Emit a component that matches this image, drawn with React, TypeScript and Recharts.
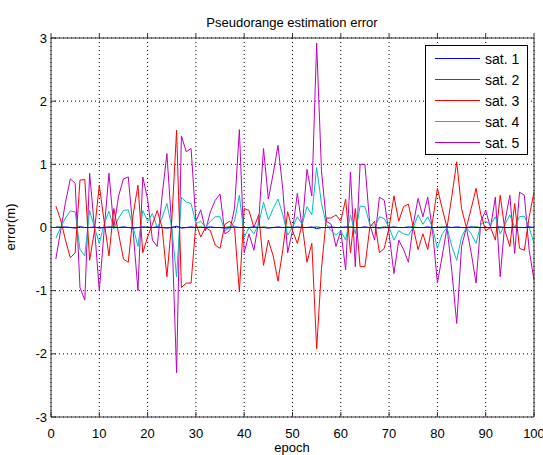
import React from 'react';
import { LineChart, Line, XAxis, YAxis, CartesianGrid, Legend } from 'recharts';

// error (m) per epoch 1..100
const sat1 = [
  0.01, 0.0, 0.01, 0.0, -0.01, 0.01, 0.0, 0.0, 0.01, -0.01,
  0.0, 0.01, 0.0, 0.0, 0.01, 0.0, -0.01, 0.0, 0.01, 0.0,
  0.0, 0.01, 0.0, -0.01, 0.0, 0.02, -0.01, 0.0, 0.01, 0.0,
  0.0, 0.0, 0.01, 0.0, 0.0, -0.01, 0.0, 0.01, 0.0, 0.0,
  0.0, 0.01, 0.0, 0.0, -0.01, 0.0, 0.01, 0.0, 0.0, 0.0,
  0.01, 0.0, 0.0, 0.01, -0.02, 0.0, 0.0, 0.01, 0.0, 0.0,
  0.01, 0.0, 0.0, 0.0, 0.01, 0.0, 0.0, -0.01, 0.0, 0.0,
  0.01, 0.0, 0.0, 0.01, 0.0, 0.0, 0.0, 0.01, 0.0, 0.0,
  0.0, 0.01, 0.0, 0.01, 0.0, 0.0, 0.01, 0.0, 0.0, 0.0,
  0.0, 0.0, 0.01, 0.0, 0.0, 0.0, 0.0, 0.0, 0.01, 0.0,
];
const sat2 = [
  0.0, 0.01, 0.0, 0.0, 0.0, 0.01, 0.0, 0.0, 0.0, 0.0,
  0.0, 0.0, 0.01, 0.0, 0.0, 0.0, 0.0, 0.0, 0.0, 0.01,
  0.0, 0.0, 0.0, 0.0, 0.0, 0.01, 0.0, 0.0, 0.0, 0.0,
  0.01, 0.0, 0.0, 0.0, 0.0, 0.0, 0.01, 0.0, 0.0, 0.0,
  0.0, 0.0, 0.0, 0.01, 0.0, 0.0, 0.0, 0.0, 0.01, 0.0,
  0.0, 0.0, 0.0, 0.0, 0.01, 0.0, 0.0, 0.0, 0.0, 0.0,
  0.0, 0.01, 0.0, 0.0, 0.0, 0.0, 0.0, 0.0, 0.01, 0.0,
  0.0, 0.0, 0.0, 0.0, 0.01, 0.0, 0.0, 0.0, 0.0, 0.0,
  0.01, 0.0, 0.0, 0.0, 0.0, 0.0, 0.0, 0.01, 0.0, 0.0,
  0.0, 0.0, 0.0, 0.0, 0.0, 0.01, 0.0, 0.0, 0.0, 0.0,
];
const sat3 = [
  0.34, 0.12, -0.2, -0.48, -0.4, 0.75, 0.76, -0.52, -0.05, 0.67,
  0.1, -0.45, 0.3, -0.1, -0.5, -0.55, 0.2, 0.67, -0.4, -0.15,
  0.05, 0.27, 0.0, -0.78, 0.1, 1.54, -0.95, -0.88, -0.88, 0.06,
  -0.15, 0.0, -0.05, -0.28, -0.33, 0.05, 0.1, 0.0, -1.02, 0.3,
  0.27, 0.0, 0.2, -0.6, -0.2, -0.45, -0.85, -0.35, 0.25, -0.05,
  -0.25, 0.05, -0.55, -0.25, -1.92, -0.65, 0.15, 0.15, 0.2, 0.1,
  0.45, -0.4, 0.3, -0.62, -0.62, 0.0, 0.1, -0.4, -0.33, 0.0,
  0.5, 0.1, 0.33, 0.37, 0.0, -0.35, -0.1, -0.35, 0.1, 0.62,
  0.3, 0.0, 0.5, 1.04, 0.3, 0.0, 0.3, 0.62, 0.2, -0.05,
  0.0, -0.2, 0.51, -0.05, -0.3, 0.38, -0.33, -0.36, 0.17, 0.56,
];
const sat4 = [
  -0.17, 0.0, 0.15, 0.26, 0.25, -0.35, -0.45, 0.27, 0.0, -0.25,
  0.05, 0.26, -0.02, 0.15, 0.27, 0.28, 0.0, -0.3, 0.27, 0.1,
  0.22, 0.0, 0.15, 0.38, 0.0, -0.78, 0.48, 0.4, 0.38, 0.06,
  0.1, 0.0, 0.1, 0.17, 0.17, -0.05, 0.0, 0.1, 0.51, -0.15,
  0.0, -0.1, 0.05, 0.4, 0.12, 0.3, 0.45, 0.2, -0.12, 0.0,
  0.17, 0.05, 0.33, 0.2, 0.95, 0.38, 0.05, -0.05, -0.12, -0.05,
  -0.2, 0.2, -0.1, 0.34, 0.33, 0.05, 0.0, 0.17, 0.14, 0.0,
  -0.2, -0.05, -0.1, -0.12, 0.0, 0.2, 0.05, 0.17, 0.0, -0.33,
  -0.1, 0.0, -0.3, -0.52, -0.15, 0.0, -0.1, -0.25, 0.05, 0.1,
  0.05, 0.17, -0.1, 0.05, 0.2, 0.0, 0.17, 0.18, 0.0, -0.25,
];
const sat5 = [
  -0.5, -0.05, 0.4, 0.77, 0.7, -0.95, -1.15, 0.86, 0.0, -1.0,
  -0.05, 0.86, 0.0, 0.5, 0.77, 0.8, -0.05, -1.0, 0.8, 0.45,
  -0.2, -0.3, 0.5, 1.17, 0.0, -2.3, 1.45, 1.2, 1.25, 0.1,
  0.28, -0.05, 0.25, 0.43, 0.53, -0.1, -0.05, 0.3, 1.55, -0.4,
  -0.1, -0.36, 0.1, 1.25, 0.45, 0.85, 1.3, 0.6, -0.4, -0.05,
  0.54, 0.0, 0.92, 0.5, 2.92, 0.9, 0.1, 0.05, -0.3, -0.05,
  -0.67, 0.88, -0.62, 1.0, 1.0, 0.05, -0.2, 0.48, 0.43, -0.1,
  -0.73, -0.2, -0.35, -0.55, 0.05, 0.46, 0.17, 0.48, -0.05, -0.88,
  -0.45, 0.0, -0.7, -1.52, -0.3, 0.0, -0.4, -0.88, 0.1, 0.27,
  0.0, 0.48, -0.78, 0.1, 0.51, -0.41, 0.56, 0.51, -0.36, -0.83,
];

const xTicks = [0, 10, 20, 30, 40, 50, 60, 70, 80, 90, 100];
const yTicks = [-3, -2, -1, 0, 1, 2, 3];

const series = [
  { key: 'sat1', name: 'sat. 1', color: '#0000ff' },
  { key: 'sat2', name: 'sat. 2', color: '#008000' },
  { key: 'sat3', name: 'sat. 3', color: '#ff0000' },
  { key: 'sat4', name: 'sat. 4', color: '#00bfbf' },
  { key: 'sat5', name: 'sat. 5', color: '#bf00bf' },
];

const data = sat1.map((v, i) => ({
  epoch: i + 1,
  sat1: v,
  sat2: sat2[i],
  sat3: sat3[i],
  sat4: sat4[i],
  sat5: sat5[i],
}));

const FONT = "'Liberation Sans', Arial, Helvetica, sans-serif";
const FRAME = '#333';

const LegendBox = () => (
  <svg width={103} height={110} style={{ display: 'block' }}>
    <rect x={0.5} y={0.5} width={102} height={109} fill="#fff" stroke="#000" />
    {series.map((s, i) => (
      <g key={s.key}>
        <line x1={10} x2={55} y1={13.5 + i * 21} y2={13.5 + i * 21} stroke={s.color} strokeWidth={1} />
        <text x={60} y={18.5 + i * 21} fontSize={14} fontFamily={FONT} fill="#000">{s.name}</text>
      </g>
    ))}
  </svg>
);

export default function App() {
  return (
    <div style={{ position: 'absolute', left: 0, top: 0, width: 543, height: 455, background: '#fff' }}>
      <LineChart width={543} height={455} data={data} margin={{ top: 37, right: 8, left: 0, bottom: 0 }}>
        <CartesianGrid stroke="#000" strokeDasharray="1 3" horizontalValues={yTicks} verticalValues={xTicks} />
        <XAxis
          xAxisId={0}
          dataKey="epoch"
          type="number"
          domain={[0, 100]}
          ticks={xTicks}
          interval={0}
          height={38}
          stroke={FRAME}
          tickSize={-5}
          tickMargin={17}
          tick={{ fill: '#000', fontSize: 13, fontFamily: FONT }}
          label={() => (
            <text x={292} y={452} textAnchor="middle" fontSize={13} fontFamily={FONT} fill="#000">epoch</text>
          )}
        />
        <XAxis
          xAxisId="top"
          orientation="top"
          dataKey="epoch"
          type="number"
          domain={[0, 100]}
          ticks={xTicks}
          interval={0}
          height={1}
          stroke={FRAME}
          tickSize={5}
          tickFormatter={() => ''}
          label={() => (
            <text x={292} y={27} textAnchor="middle" fontSize={13} fontFamily={FONT} fill="#000">Pseudorange estimation error</text>
          )}
        />
        <YAxis
          yAxisId={0}
          type="number"
          domain={[-3, 3]}
          ticks={yTicks}
          interval={0}
          width={51}
          stroke={FRAME}
          tickSize={-5}
          tickMargin={9}
          tick={{ fill: '#000', fontSize: 13, fontFamily: FONT }}
          label={() => (
            <text x={15} y={227} transform="rotate(-90 15 227)" textAnchor="middle" fontSize={13} fontFamily={FONT} fill="#000">error(m)</text>
          )}
        />
        <YAxis
          yAxisId="right"
          orientation="right"
          type="number"
          domain={[-3, 3]}
          ticks={yTicks}
          interval={0}
          width={1}
          stroke={FRAME}
          tickSize={5}
          tickFormatter={() => ''}
        />
        {[...series].reverse().map((s) => (
          <Line
            key={s.key}
            type="linear"
            dataKey={s.key}
            name={s.name}
            stroke={s.color}
            strokeWidth={1}
            dot={false}
            activeDot={false}
            isAnimationActive={false}
          />
        ))}
        <Legend
          layout="vertical"
          align="center"
          verticalAlign="middle"
          wrapperStyle={{ position: 'absolute', left: 425, top: 45, width: 103, height: 110 }}
          content={() => <LegendBox />}
        />
      </LineChart>
    </div>
  );
}
